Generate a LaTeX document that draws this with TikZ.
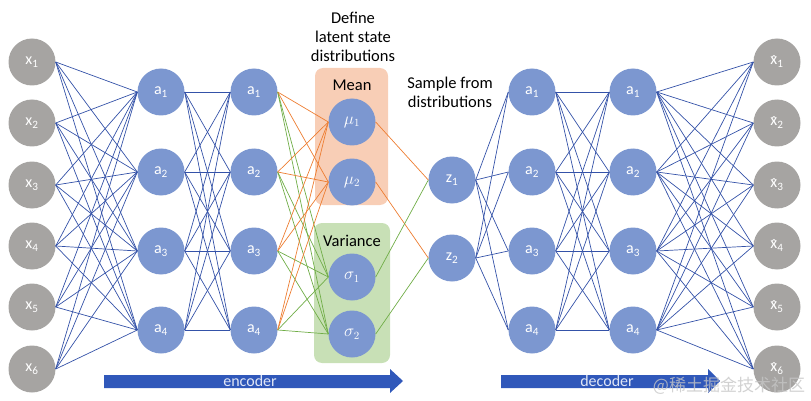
\documentclass[tikz,border=0pt]{standalone}
\usepackage{fontspec}
\setmainfont{Carlito}
\newfontfamily\cjkfont{Noto Sans CJK SC}
\newcommand\xhat{\leavevmode\ooalign{x\cr\hidewidth\raisebox{-0.12em}{\char"02C6}\hidewidth\cr}}
\definecolor{nodegray}{RGB}{166,164,162}
\definecolor{nodeblue}{RGB}{124,151,208}
\definecolor{wireblue}{RGB}{52,82,168}
\definecolor{wireorange}{RGB}{237,125,49}
\definecolor{wiregreen}{RGB}{112,173,71}
\definecolor{meanfill}{RGB}{248,206,182}
\definecolor{varfill}{RGB}{200,224,182}
\definecolor{arrowblue}{RGB}{48,88,186}
\tikzset{
  neuron/.style={circle, minimum size=47pt, inner sep=0pt, text=white,
    font=\fontsize{16}{19}\selectfont},
  inneuron/.style={neuron, fill=nodegray},
  hidneuron/.style={neuron, fill=nodeblue},
  wire/.style={wireblue, line width=0.7pt},
  title/.style={align=center, font=\fontsize{16.5}{19}\selectfont}
}
\begin{document}
\begin{tikzpicture}[x=1pt, y=-1pt]
        \useasboundingbox (0,0) rectangle (811,401);

        % latent boxes
        \fill[meanfill, rounded corners=8pt] (315,68) rectangle (388,205);
        \fill[varfill, rounded corners=8pt] (314,223) rectangle (390,363);

        % input and output layers
        \foreach \i/\y in {1/62, 2/123, 3/185, 4/246, 5/307, 6/369}
        {
          \path (32, \y) node[inneuron] (x\i) {x\textsubscript{\i}};
          \path (777, \y) node[inneuron] (y\i) {\xhat\textsubscript{\i}};
        }

        % hidden layers
        \foreach \i/\y in {1/92, 2/172, 3/251, 4/330}
        {
          \path (161, \y) node[hidneuron] (h\i) {a\textsubscript{\i}};
          \path (254, \y) node[hidneuron] (g\i) {a\textsubscript{\i}};
          \path (532, \y) node[hidneuron] (d\i) {a\textsubscript{\i}};
          \path (633, \y) node[hidneuron] (f\i) {a\textsubscript{\i}};
        }

        % latent layer
        \path (352, 122) node[hidneuron] (mu1) {$\mu_1$};
        \path (352, 182) node[hidneuron] (mu2) {$\mu_2$};
        \path (352, 277) node[hidneuron] (sg1) {$\sigma_1$};
        \path (352, 334) node[hidneuron] (sg2) {$\sigma_2$};
        \path (452, 180) node[hidneuron] (z1) {z\textsubscript{1}};
        \path (452, 258) node[hidneuron] (z2) {z\textsubscript{2}};

        % labels
        \node[title] (mean) at (352, 85) {Mean};
        \node[title] (var) at (352, 241) {Variance};
        \node[title] (define) at (353, 37) {Define\\latent state\\distributions};
        \node[title] (sample) at (450, 92) {Sample from\\distributions};

        % connections
        \foreach \i in {1, ..., 6}
          \foreach \j in {1, ..., 4}
          {
            \draw[wire] (x\i.east) -- (h\j.west);
            \draw[wire] (f\j.east) -- (y\i.west);
          }
        \foreach \i in {1, ..., 4}
          \foreach \j in {1, ..., 4}
          {
            \draw[wire] (h\i.east) -- (g\j.west);
            \draw[wire] (d\i.east) -- (f\j.west);
          }
        \foreach \i in {1, ..., 4}
          \foreach \j in {1, 2}
          {
            \draw[wireorange, line width=0.7pt] (g\i.east) -- (mu\j.west);
            \draw[wiregreen, line width=0.7pt] (g\i.east) -- (sg\j.west);
            \draw[wire] (z\j.east) -- (d\i.west);
          }
        \draw[wireorange, line width=0.7pt]
          (mu1.east) -- (z1.west)
          (mu2.east) -- (z2.west);
        \draw[wiregreen, line width=0.7pt]
          (sg1.east) -- (z1.west)
          (sg2.east) -- (z2.west);

        % encoder / decoder arrows
        \fill[arrowblue] (104,375) -- (390,375) -- (390,369) -- (403,381)
          -- (390,393) -- (390,388) -- (104,388) -- cycle;
        \fill[arrowblue] (501,375) -- (708,375) -- (708,369) -- (720,381)
          -- (708,393) -- (708,388) -- (501,388) -- cycle;
        \node[text=white!85!arrowblue, font=\fontsize{16}{19}\selectfont] (enc) at (250,381) {encoder};
        \node[text=white!85!arrowblue, font=\fontsize{16}{19}\selectfont] (dec) at (607,381) {decoder};

        % watermark
        \node[text=gray!45, opacity=0.8, font=\cjkfont\fontsize{17}{20}\selectfont] (mark) at (729,386) {@稀土掘金技术社区};
      \end{tikzpicture}
\end{document}
